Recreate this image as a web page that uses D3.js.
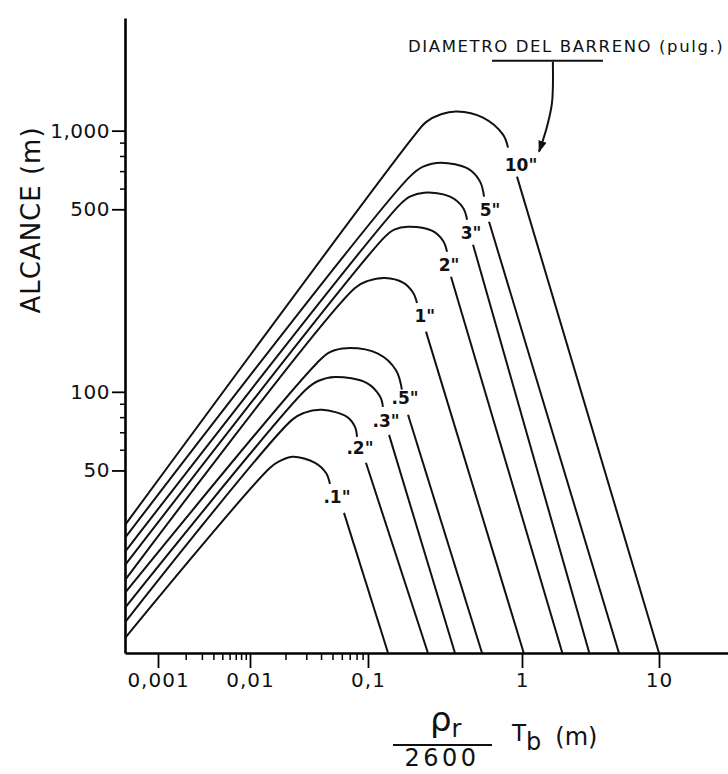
<!DOCTYPE html>
<html>
<head>
<meta charset="utf-8">
<script src="https://cdn.jsdelivr.net/npm/d3@7"></script>
<style>
  body { margin: 0; background: #fff; }
  svg { display: block; }
  text { font-family: 'DejaVu Sans', sans-serif; fill: #111; }
</style>
</head>
<body>
<div id="chart"></div>
<script>
// diametro del barreno (pulg.), de menor a mayor
const diameters = ['.1"', '.2"', '.3"', '.5"', '1"', '2"', '3"', '5"', '10"']

// alcance (m) donde cada recta sale del eje vertical
const axisStart = [11.4, 13.1, 14.9, 17.0, 19.0, 21.7, 24.4, 27.6, 30.9]

// cresta de cada curva [Tb, alcance]: fin de la recta, cima, corte
const crests = [
    [[0.0148, 51.2], [0.0180, 54.4], [0.0231, 56.4], [0.0356, 53.5], [0.0441, 48.9], [0.0476, 44.4]],
    [[0.0227, 78.1], [0.0287, 83.1], [0.0408, 85.3], [0.0664, 80.2], [0.0776, 73.4], [0.0807, 67.2]],
    [[0.0298, 102], [0.0377, 110], [0.0525, 114], [0.098, 108], [0.120, 95.7], [0.125, 87.6]],
    [[0.0370, 129], [0.0476, 142], [0.0664, 147], [0.116, 140], [0.152, 121], [0.166, 102]],
    [[0.0776, 250], [0.100, 266], [0.129, 273], [0.169, 262], [0.196, 240], [0.208, 219]],
    [[0.129, 393], [0.148, 418], [0.182, 429], [0.260, 414], [0.307, 379], [0.326, 344]],
    [[0.161, 521], [0.187, 559], [0.231, 579], [0.341, 559], [0.414, 507], [0.440, 456]],
    [[0.187, 667], [0.228, 728], [0.298, 754], [0.446, 715], [0.534, 638], [0.567, 559]],
    [[0.202, 965], [0.238, 1078], [0.298, 1155], [0.378, 1183], [0.558, 1121], [0.753, 965], [0.811, 861]]
]

// tramo descendente: arranque [Tb, alcance] y corte con el eje (alcance 10 m)
const fallTop = [[0.0626, 34.4], [0.0961, 53.5], [0.137, 68.4], [0.182, 81.7], [0.238, 170],
    [0.346, 276], [0.481, 366], [0.611, 448], [0.928, 667]]
const fallEnd = [0.135, 0.245, 0.367, 0.55, 1.03, 1.97, 3.1, 5.1, 10]

// donde va la etiqueta de cada curva [Tb, alcance]
const labelAt = [[0.0546, 39.6], [0.0855, 61.0], [0.131, 77.4], [0.174, 94.9], [0.234, 196],
    [0.336, 307], [0.467, 407], [0.620, 498], [0.985, 741]]

const xTicks = [0.001, 0.01, 0.1, 1, 10]
const xTickLabels = ['0,001', '0,01', '0,1', '1', '10']
const xMinor = [0.002, 0.003, 0.004, 0.005, 0.006, 0.007, 0.008, 0.009,
    0.02, 0.03, 0.04, 0.05, 0.06, 0.07, 0.08, 0.09]
const yTicks = [50, 100, 500, 1000]
const yTickLabels = ['50', '100', '500', '1,000']
const yMinor = [60, 70, 80, 90, 600, 700, 800, 900]

// nota con flecha
const noteText = 'DIAMETRO DEL BARRENO (pulg.)'
const noteAt = [0.182, 2008]
const noteRule = [[0.639, 1854], [3.9, 1854]]
const noteArrow = [[1.68, 1838], [1.656, 1281], [1.522, 1036], [1.331, 831]]

let width = 728,
    height = 774

let svg = d3.select('#chart').append('svg')
    .attr('width', width)
    .attr('height', height)

svg.append('defs').append('marker')
    .attr('id', 'head')
    .attr('viewBox', '0 0 10 10')
    .attr('refX', 9).attr('refY', 5)
    .attr('markerWidth', 12).attr('markerHeight', 12)
    .attr('markerUnits', 'userSpaceOnUse')
    .attr('orient', 'auto')
    .append('path')
    .attr('d', 'M0,1.5L10,5L0,8.5Z')
    .attr('fill', '#111')

// the printed axis is not a perfect log scale, so it is piecewise per decade
let x = d3.scaleLog()
    .domain([0.000438, 0.001, 0.01, 0.1, 1, 10, 32])
    .range([125, 158, 250, 368, 522, 659, 728])

let y = d3.scaleLog()
    .domain([10, 2700])
    .range([653, 18])

let line = d3.line()
    .x(d => x(d[0]))
    .y(d => y(d[1]))

let curvy = d3.line()
    .x(d => x(d[0]))
    .y(d => y(d[1]))
    .curve(d3.curveCatmullRom.alpha(0.5))

// axes
let xAxis = g => g
    .attr('transform', `translate(0,${y(10)})`)
    .call(d3.axisBottom(x).tickValues(xTicks).tickFormat((d, i) => xTickLabels[i])
        .tickSize(15).tickSizeOuter(0).tickPadding(5))
    .call(g => g.select('.domain').attr('stroke-width', 2.6))
    .call(g => g.selectAll('.tick line').attr('stroke-width', 1.8))
    .call(g => g.selectAll('.tick text')
        .attr('font-family', "'DejaVu Sans', sans-serif")
        .attr('font-size', 20)
        .attr('letter-spacing', 1)
        .attr('fill', '#111'))

let xMinorAxis = g => g
    .attr('transform', `translate(0,${y(10)})`)
    .call(d3.axisBottom(x).tickValues(xMinor).tickFormat('').tickSize(7).tickSizeOuter(0))
    .call(g => g.select('.domain').remove())
    .call(g => g.selectAll('.tick line').attr('stroke-width', 1.5))

let yAxis = g => g
    .attr('transform', `translate(${x.range()[0]},0)`)
    .call(d3.axisLeft(y).tickValues(yTicks).tickFormat((d, i) => yTickLabels[i])
        .tickSize(13).tickSizeOuter(0).tickPadding(2))
    .call(g => g.select('.domain').attr('stroke-width', 2.6))
    .call(g => g.selectAll('.tick line').attr('stroke-width', 1.8))
    .call(g => g.selectAll('.tick text')
        .attr('font-family', "'DejaVu Sans', sans-serif")
        .attr('font-size', 20)
        .attr('letter-spacing', 0.5)
        .attr('fill', '#111'))

let yMinorAxis = g => g
    .attr('transform', `translate(${x.range()[0]},0)`)
    .call(d3.axisLeft(y).tickValues(yMinor).tickFormat('').tickSize(5).tickSizeOuter(0))
    .call(g => g.select('.domain').remove())
    .call(g => g.selectAll('.tick line').attr('stroke-width', 1.5))

svg.append('g').call(xMinorAxis)
svg.append('g').call(yMinorAxis)
svg.append('g').call(xAxis)
svg.append('g').call(yAxis)

// curves
let curves = svg.append('g')
    .attr('fill', 'none')
    .attr('stroke', '#111')
    .attr('stroke-width', 2)

diameters.forEach((dia, i) => {
    let rise = [[x.domain()[0], axisStart[i]]].concat(crests[i])
    curves.append('path')
        .attr('class', 'crest')
        .attr('d', curvy(rise))
    curves.append('path')
        .attr('class', 'fall')
        .attr('d', line([fallTop[i], [fallEnd[i], y.domain()[0]]]))
})

svg.append('g')
    .selectAll('text')
    .data(diameters)
    .enter().append('text')
    .attr('x', (d, i) => x(labelAt[i][0]))
    .attr('y', (d, i) => y(labelAt[i][1]))
    .attr('text-anchor', 'middle')
    .attr('dominant-baseline', 'central')
    .attr('font-family', "'Liberation Sans', sans-serif")
    .attr('font-weight', 'bold')
    .attr('font-size', 17)
    .text(d => d)

// nota
svg.append('text')
    .attr('x', x(noteAt[0]))
    .attr('y', y(noteAt[1]))
    .attr('font-size', 16.5)
    .attr('letter-spacing', 1.6)
    .text(noteText)

svg.append('path')
    .attr('d', line(noteRule))
    .attr('stroke', '#111')
    .attr('stroke-width', 2)

svg.append('path')
    .attr('d', curvy(noteArrow))
    .attr('fill', 'none')
    .attr('stroke', '#111')
    .attr('stroke-width', 2)
    .attr('marker-end', 'url(#head)')

// axis titles
svg.append('text')
    .attr('transform', 'translate(40,220) rotate(-90)')
    .attr('text-anchor', 'middle')
    .attr('font-size', 26)
    .attr('letter-spacing', 1)
    .text('ALCANCE (m)')

let xt = svg.append('g').attr('class', 'x-title')

xt.append('text')
    .attr('x', 430).attr('y', 731)
    .attr('font-size', 34)
    .text('ρ')
    .append('tspan')
    .attr('font-size', 24)
    .attr('dy', 6)
    .text('r')

xt.append('line')
    .attr('x1', 393).attr('x2', 492)
    .attr('y1', 745).attr('y2', 745)
    .attr('stroke', '#111')
    .attr('stroke-width', 2)

xt.append('text')
    .attr('x', 442).attr('y', 766)
    .attr('text-anchor', 'middle')
    .attr('font-size', 24)
    .attr('letter-spacing', 3.5)
    .text('2600')

xt.append('text')
    .attr('x', 512).attr('y', 741)
    .attr('font-size', 23)
    .text('T')
    .append('tspan')
    .attr('dy', 9)
    .attr('font-size', 24)
    .text('b')
    .append('tspan')
    .attr('dy', -5)
    .attr('dx', 14)
    .text('(m)')
</script>
</body>
</html>
